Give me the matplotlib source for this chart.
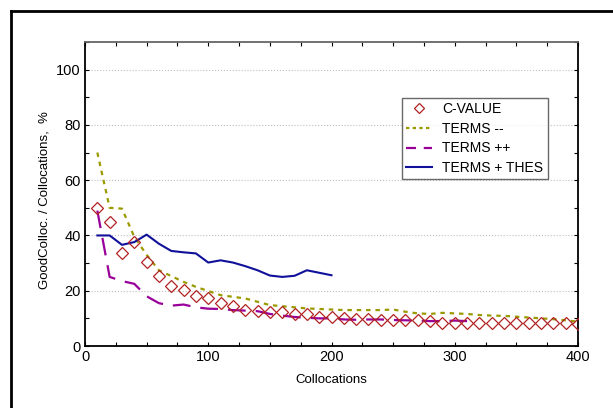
import matplotlib
matplotlib.use("Agg")
import matplotlib.pyplot as plt
from matplotlib.lines import Line2D
from matplotlib.ticker import MultipleLocator

plt.rcParams['font.family'] = ['Liberation Sans', 'DejaVu Sans']

# data
cvalue_x = list(range(10, 410, 10))
cvalue_y = [50, 45, 33.7, 37.7, 30.3, 25.3, 21.7, 20.2, 18, 17.2,
            15.6, 14.4, 13.2, 12.7, 12.4, 12.4, 11.4, 11.4, 10.6, 10.4,
            10.2, 9.7, 9.9, 9.4, 9.4, 9.4, 9.4, 9.0, 8.5, 8.5,
            8.2, 8.2, 8.2, 8.2, 8.5, 8.2, 8.5, 8.2, 8.2, 8.0]

terms_minus_x = list(range(10, 410, 10))
terms_minus_y = [70, 50, 49.7, 39.5, 33, 27.4, 25.3, 23.2, 21.4, 19.9,
                 18.4, 17.8, 17.2, 16, 14.8, 14.4, 14, 13.6, 13.4, 13.2,
                 13, 13, 13, 13, 13.2, 12.4, 11.8, 11.6, 12, 11.8,
                 11.6, 11.2, 11, 10.9, 10.6, 10.3, 10, 9.7, 9.3, 8.8]

terms_plus_x = list(range(10, 320, 10))
terms_plus_y = [49, 25, 23.5, 22.5, 18, 15.5, 14.6, 15, 14, 13.5,
                13.4, 13, 12.8, 12.6, 11.6, 11, 10.5, 10.2, 10, 10,
                9.6, 9.5, 9.6, 9.6, 9.4, 9.3, 9.2, 9.0, 9.0, 9.2, 9.0]

terms_thes_x = list(range(10, 210, 10))
terms_thes_y = [40, 40, 36.6, 37.6, 40.3, 37, 34.4, 33.9, 33.5, 30.2,
                31, 30.2, 28.9, 27.4, 25.5, 25, 25.4, 27.4, 26.5, 25.6]

fig = plt.figure(figsize=(6.13, 4.08), dpi=100)
ax = fig.add_axes([85 / 613, 1 - 346 / 408, 493 / 613, 304 / 408])

ax.plot(cvalue_x, cvalue_y, ls='none', marker='D', ms=6.4, mfc='none',
        mec='#b22222', mew=0.9, label='C-VALUE', zorder=4)
ax.plot(terms_minus_x, terms_minus_y, color='#9a9a00', lw=1.6,
        dashes=(2, 2.2), label='TERMS --', zorder=3)
ax.plot(terms_plus_x, terms_plus_y, color='#990099', lw=1.6,
        dashes=(8, 4.5), label='TERMS ++', zorder=3)
ax.plot(terms_thes_x, terms_thes_y, color='#10109a', lw=1.5,
        label='TERMS + THES', zorder=3)

ax.set_xlim(0, 400)
ax.set_ylim(0, 110)
ax.xaxis.set_major_locator(MultipleLocator(100))
ax.xaxis.set_minor_locator(MultipleLocator(25))
ax.yaxis.set_major_locator(MultipleLocator(20))
ax.yaxis.set_minor_locator(MultipleLocator(10))
ax.tick_params(which='both', direction='in', top=True, right=True,
               length=3, width=0.8, labelsize=10.5, pad=3)
ax.grid(axis='y', which='major', color='#c0c0c0', ls=':', lw=0.8)

for s in ['left', 'bottom', 'right']:
    ax.spines[s].set_linewidth(1.3)
    ax.spines[s].set_color('black')
ax.spines['top'].set_color('#666666')
ax.spines['top'].set_linewidth(1.3)

ax.set_xlabel('Collocations', fontsize=9.5, labelpad=7)
ax.set_ylabel('GoodColloc. / Collocations,  %', fontsize=9.5)
ax.yaxis.set_label_coords(-0.07, 0.48)

leg = ax.legend(loc='upper left', bbox_to_anchor=(0.642, 0.817),
                borderaxespad=0, fontsize=10, frameon=True, fancybox=False,
                handlelength=1.9, borderpad=0.3, labelspacing=0.42,
                handletextpad=0.75, markerscale=0.8)
leg.get_frame().set_edgecolor('#444444')
leg.get_frame().set_linewidth(1.0)
leg.get_lines()[1].set_dashes((1.5, 1.5))
leg.get_lines()[2].set_dashes((4.5, 3.5))

# outer frame (cropped on the right and bottom)
fx = 10.5 / 613
fy = 1 - 10.5 / 408
fig.add_artist(Line2D([fx, 1.0], [fy, fy], transform=fig.transFigure,
                      color='black', lw=2.0))
fig.add_artist(Line2D([fx, fx], [0.0, fy], transform=fig.transFigure,
                      color='black', lw=2.0))

fig.savefig('out.png', dpi=100)
